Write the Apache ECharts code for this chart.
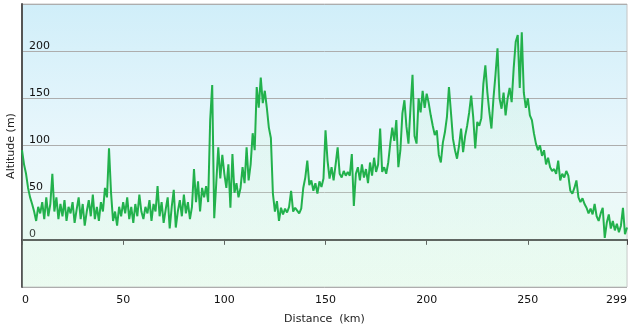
<!DOCTYPE html>
<html>
<head>
<meta charset="utf-8">
<script src="https://cdn.jsdelivr.net/npm/echarts@6/dist/echarts.min.js"></script>
<style>
  html, body { margin: 0; padding: 0; background: #fff; }
  #chart { width: 631px; height: 326px; }
</style>
</head>
<body>
<div id="chart"></div>
<script>
// altitude profile, one value per km
var distanceKm = [];
for (var i = 0; i < 300; i++) distanceKm.push(i);

var altitude = [
  95, 80, 70, 55, 45, 38, 30, 20, 35, 28,
  40, 22, 45, 25, 38, 70, 30, 45, 22, 38,
  25, 42, 20, 35, 28, 40, 18, 32, 45, 22,
  38, 15, 30, 42, 25, 48, 22, 35, 20, 40,
  30, 55, 45, 97, 50, 20, 30, 15, 35, 25,
  40, 28, 45, 22, 35, 18, 38, 25, 48, 30,
  22, 35, 28, 42, 20, 38, 30, 57, 25, 40,
  18, 32, 45, 12, 35, 53, 13, 30, 42, 25,
  48, 28, 40, 22, 35, 75, 40, 62, 30, 55,
  45, 57, 40, 127, 164, 23, 60, 98, 65, 90,
  70, 55, 80, 34, 91, 50, 60, 45, 55, 77,
  60, 98, 63, 80, 113, 95, 162, 140, 172, 145,
  158, 140, 119, 108, 49, 30, 41, 20, 34, 27,
  33, 29, 35, 52, 30, 34, 31, 28, 33, 55,
  66, 84, 58, 63, 52, 60, 49, 62, 56, 65,
  116, 84, 65, 77, 63, 80, 98, 70, 66, 73,
  68, 72, 68, 91, 36, 70, 77, 63, 80, 66,
  75, 60, 82, 68, 87, 72, 80, 118, 72, 77,
  70, 82, 102, 119, 105, 127, 77, 95, 134, 148,
  120, 102, 140, 175, 110, 102, 150, 135, 158, 140,
  155, 145, 132, 121, 111, 116, 90, 82, 103, 114,
  130, 162, 135, 107, 95, 86, 100, 118, 93, 110,
  121, 135, 153, 130, 97, 125, 121, 129, 165, 185,
  156, 135, 118, 150, 175, 203, 150, 139, 156, 132,
  150, 161, 146, 182, 210, 217, 161, 220, 156, 140,
  150, 132, 127, 113, 102, 95, 100, 89, 95, 80,
  87, 77, 73, 75, 70, 84, 63, 70, 66, 73,
  68, 52, 49, 55, 63, 45, 40, 44, 38, 34,
  28, 33, 27, 38, 25, 20, 28, 34, 2, 18,
  27, 12, 20, 10, 17, 8, 15, 34, 6, 13
];

var yTicks = [0, 50, 100, 150, 200];

var points = distanceKm.map(function (d, i) { return [d, altitude[i]]; });

var myChart = echarts.init(document.getElementById('chart'));
myChart.setOption({
    animation: false,
    grid: {
        left: 22,
        right: 4,
        top: 4,
        bottom: 39,
        outerBoundsMode: 'none',
        show: true,
        borderColor: '#c4c4c4',
        borderWidth: 1,
        backgroundColor: new echarts.graphic.LinearGradient(0, 0, 0, 1, [
            {offset: 0, color: '#d0eef9'},
            {offset: 0.5, color: '#e9f7fc'},
            {offset: 1, color: '#effcf3'}
        ])
    },
    // y axis title
    graphic: [{
        type: 'text',
        x: 11,
        y: 146,
        rotation: Math.PI / 2,
        style: {
            text: 'Altitude (m)',
            align: 'center',
            verticalAlign: 'middle',
            fontFamily: 'DejaVu Sans',
            fontSize: 11,
            fill: '#222'
        }
    }],
    xAxis: {
        type: 'value',
        min: 0,
        max: 299,
        interval: 50,
        name: 'Distance  (km)',
        nameLocation: 'middle',
        nameGap: 27,
        nameTextStyle: {fontFamily: 'DejaVu Sans', fontSize: 11, color: '#222'},
        axisLine: {show: true, lineStyle: {color: '#444', width: 2}},
        axisTick: {show: true, length: 5, lineStyle: {color: '#444'}},
        axisLabel: {
            fontFamily: 'DejaVu Sans', fontSize: 11, color: '#111', margin: 8,
            alignMinLabel: 'left', alignMaxLabel: 'right'
        },
        splitLine: {show: false}
    },
    yAxis: {
        type: 'value',
        min: -50,
        max: 250,
        interval: 50,
        axisLine: {show: true, lineStyle: {color: '#555', width: 2}},
        axisTick: {show: false},
        axisLabel: {
            inside: true,
            margin: 7,
            verticalAlign: 'bottom',
            fontFamily: 'DejaVu Sans',
            fontSize: 11,
            color: '#111',
            formatter: function (v) { return yTicks.indexOf(v) >= 0 ? String(v) : ''; }
        },
        splitLine: {show: true, lineStyle: {color: '#adadad', width: 1}}
    },
    series: [
        {
            type: 'line',
            data: points,
            showSymbol: false,
            lineStyle: {color: '#22b14c', width: 2},
            itemStyle: {color: '#22b14c'},
            areaStyle: {
                origin: 'start',
                color: new echarts.graphic.LinearGradient(0, 0, 0, 1, [
                    {offset: 0, color: 'rgba(190,240,205,0.35)'},
                    {offset: 1, color: 'rgba(215,248,225,0.25)'}
                ])
            }
        }
    ]
});
</script>
</body>
</html>
